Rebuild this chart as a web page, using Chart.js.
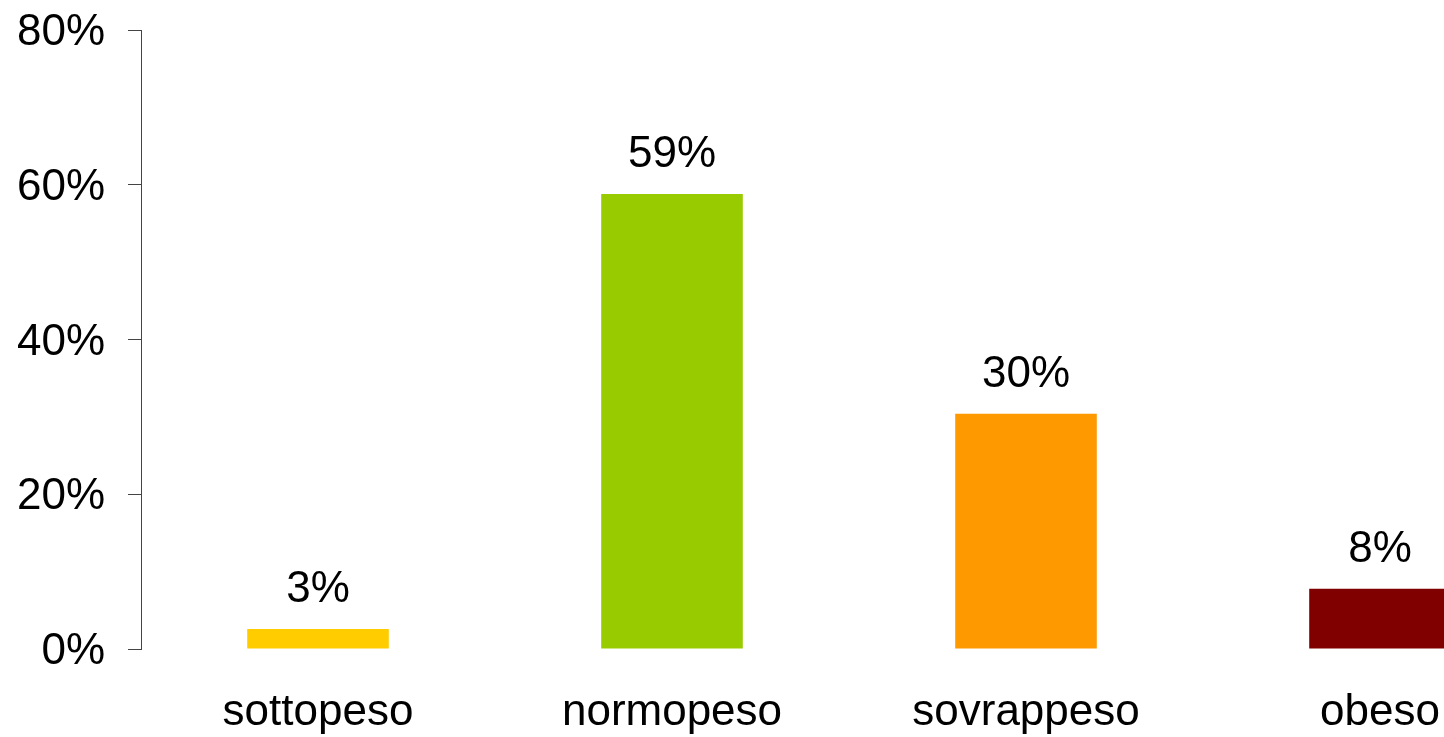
<!DOCTYPE html>
<html>
<head>
<meta charset="utf-8">
<script src="https://cdn.jsdelivr.net/npm/chart.js@4/dist/chart.umd.min.js"></script>
<style>
  html, body { margin: 0; padding: 0; background: #fff; overflow: hidden; }
  #wrap { width: 1557px; height: 737px; position: relative; }
</style>
</head>
<body>
<div id="wrap"><canvas id="bmi-chart"></canvas></div>
<script>
// Data
const categories = ["sottopeso", "normopeso", "sovrappeso", "obeso"];
const percentages = [2.6, 58.8, 30.4, 7.8];
const barColors = ["#FFCC00", "#99CC00", "#FF9900", "#800000"];
const yTicks = [0, 20, 40, 60, 80];

Chart.defaults.font.family = "'Liberation Sans', Arial, sans-serif";
Chart.defaults.color = "#000";

// draws the value above each bar
const valueLabels = {
  id: "valueLabels",
  afterDatasetsDraw(chart) {
    const ctx = chart.ctx;
    const meta = chart.getDatasetMeta(0);
    ctx.save();
    ctx.font = "44px 'Liberation Sans', Arial, sans-serif";
    ctx.fillStyle = "#000";
    ctx.textAlign = "center";
    ctx.textBaseline = "alphabetic";
    meta.data.forEach((bar, i) => {
      ctx.fillText(Math.round(percentages[i]) + "%", bar.x, bar.y - 27);
    });
    ctx.restore();
  }
};

new Chart(document.getElementById("bmi-chart"), {
  type: "bar",
  data: {
    labels: categories,
    datasets: [{
      data: percentages,
      backgroundColor: barColors,
      borderWidth: 0,
      barPercentage: 0.4,
      categoryPercentage: 1
    }]
  },
  options: {
    responsive: true,
    maintainAspectRatio: false,
    animation: false,
    layout: { padding: { top: 30, left: 17, right: 0, bottom: 0 } },
    plugins: {
      legend: { display: false },
      tooltip: { enabled: false }
    },
    scales: {
      x: {
        grid: { display: false, drawTicks: false },
        border: { display: false },
        ticks: { padding: 37, font: { size: 44 }, color: "#000" },
        afterFit: axis => {
          axis.height = 88;
          axis.paddingLeft = 0;
          axis.paddingRight = 0;
        }
      },
      y: {
        min: 0,
        max: 80,
        afterBuildTicks: axis => { axis.ticks = yTicks.map(v => ({ value: v })); },
        afterFit: axis => {
          axis.width = 124;
          axis.paddingTop = 0;
          axis.paddingBottom = 0;
        },
        grid: {
          drawOnChartArea: false,
          drawTicks: true,
          tickLength: 13,
          color: "#444",
          lineWidth: 1
        },
        border: { display: true, color: "#444", width: 1 },
        ticks: {
          padding: 23,
          labelOffset: 3,
          font: { size: 44 },
          color: "#000",
          callback: v => v + "%"
        }
      }
    }
  },
  plugins: [valueLabels]
});
</script>
</body>
</html>
